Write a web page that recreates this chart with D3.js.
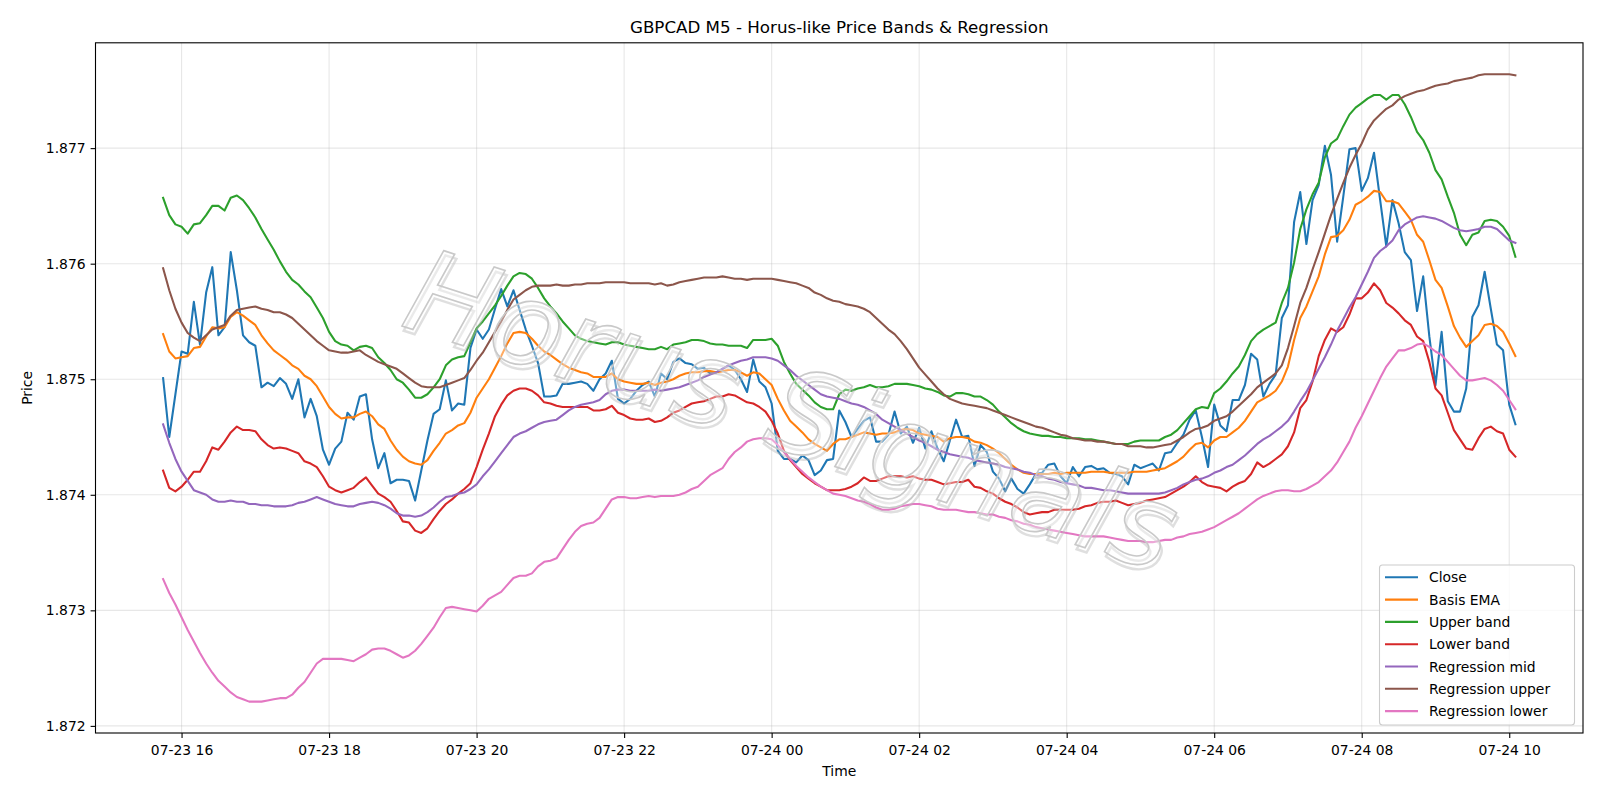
<!DOCTYPE html>
<html><head><meta charset="utf-8">
<script src="https://cdn.jsdelivr.net/npm/d3@7"></script>
<style>
body{margin:0;background:#fff}
svg{display:block}
text{font-family:"DejaVu Sans",sans-serif}
</style>
</head><body>
<svg id="chart" width="1600" height="800"></svg>
<script>
// ---------------- data ----------------
const chartTitle = "GBPCAD M5 - Horus-like Price Bands & Regression";
const xLabel = "Time";
const yLabel = "Price";
const watermark = "Horus Signals";
const startTime = "2025-07-23T15:45:00Z";   // first M5 bar
const stepMinutes = 5;                         // M5 bars
const yTickValues = [1.872, 1.873, 1.874, 1.875, 1.876, 1.877];
const xTickFormat = "%m-%d %H";
const seriesNames = ["Close","Basis EMA","Upper band","Lower band","Regression mid","Regression upper","Regression lower"];
const seriesColors = ["#1f77b4","#ff7f0e","#2ca02c","#d62728","#9467bd","#8c564b","#e377c2"];

const close = [1.87501,1.87450,1.87487,1.87524,1.87522,1.87567,1.87530,1.87575,1.87597,1.87538,
1.87545,1.87610,1.87577,1.87538,1.87532,1.87529,1.87493,1.87497,1.87494,1.87501,
1.87496,1.87483,1.87500,1.87467,1.87483,1.87468,1.87439,1.87426,1.87440,1.87446,
1.87471,1.87465,1.87485,1.87487,1.87448,1.87423,1.87436,1.87410,1.87413,1.87413,
1.87412,1.87395,1.87421,1.87447,1.87470,1.87474,1.87499,1.87473,1.87479,1.87478,
1.87527,1.87543,1.87535,1.87543,1.87561,1.87578,1.87563,1.87577,1.87560,1.87543,
1.87529,1.87514,1.87485,1.87485,1.87486,1.87496,1.87496,1.87497,1.87498,1.87496,
1.87490,1.87500,1.87505,1.87516,1.87483,1.87479,1.87483,1.87490,1.87495,1.87498,
1.87485,1.87505,1.87500,1.87515,1.87518,1.87514,1.87513,1.87509,1.87510,1.87505,
1.87506,1.87509,1.87512,1.87508,1.87500,1.87489,1.87517,1.87498,1.87493,1.87479,
1.87438,1.87431,1.87431,1.87428,1.87434,1.87430,1.87417,1.87421,1.87430,1.87431,
1.87473,1.87463,1.87450,1.87457,1.87464,1.87467,1.87446,1.87446,1.87452,1.87472,
1.87453,1.87459,1.87445,1.87458,1.87440,1.87455,1.87440,1.87429,1.87447,1.87465,
1.87450,1.87451,1.87425,1.87443,1.87437,1.87420,1.87414,1.87403,1.87414,1.87405,
1.87401,1.87409,1.87418,1.87419,1.87426,1.87427,1.87416,1.87410,1.87424,1.87416,
1.87424,1.87425,1.87422,1.87423,1.87419,1.87418,1.87416,1.87409,1.87426,1.87423,
1.87425,1.87427,1.87421,1.87436,1.87437,1.87445,1.87452,1.87465,1.87473,1.87450,
1.87424,1.87478,1.87460,1.87455,1.87482,1.87482,1.87495,1.87522,1.87517,1.87485,
1.87496,1.87504,1.87553,1.87564,1.87636,1.87662,1.87617,1.87655,1.87668,1.87702,
1.87677,1.87619,1.87658,1.87699,1.87700,1.87663,1.87674,1.87696,1.87655,1.87615,
1.87655,1.87635,1.87610,1.87603,1.87559,1.87589,1.87537,1.87495,1.87541,1.87481,
1.87472,1.87472,1.87492,1.87554,1.87564,1.87593,1.87561,1.87530,1.87525,1.87478,
1.87461];

const basisEma = [1.87539,1.87524,1.87518,1.87519,1.87520,1.87527,1.87528,1.87537,1.87545,1.87544,
1.87545,1.87554,1.87558,1.87555,1.87551,1.87547,1.87538,1.87531,1.87525,1.87521,
1.87517,1.87512,1.87509,1.87503,1.87500,1.87494,1.87485,1.87476,1.87470,1.87466,
1.87467,1.87467,1.87470,1.87472,1.87468,1.87461,1.87457,1.87447,1.87439,1.87433,
1.87429,1.87427,1.87426,1.87430,1.87438,1.87445,1.87453,1.87456,1.87460,1.87462,
1.87471,1.87484,1.87492,1.87500,1.87510,1.87520,1.87531,1.87540,1.87541,1.87540,
1.87535,1.87529,1.87524,1.87521,1.87517,1.87513,1.87510,1.87508,1.87506,1.87505,
1.87502,1.87502,1.87502,1.87505,1.87500,1.87498,1.87497,1.87496,1.87496,1.87497,
1.87495,1.87497,1.87498,1.87500,1.87503,1.87505,1.87506,1.87506,1.87507,1.87507,
1.87506,1.87507,1.87508,1.87508,1.87506,1.87503,1.87506,1.87505,1.87500,1.87495,
1.87483,1.87473,1.87464,1.87459,1.87454,1.87448,1.87444,1.87441,1.87438,1.87444,
1.87448,1.87448,1.87450,1.87452,1.87454,1.87453,1.87452,1.87453,1.87453,1.87454,
1.87456,1.87457,1.87456,1.87453,1.87452,1.87451,1.87450,1.87446,1.87449,1.87450,
1.87450,1.87449,1.87446,1.87445,1.87443,1.87440,1.87436,1.87431,1.87426,1.87422,
1.87419,1.87418,1.87418,1.87418,1.87418,1.87419,1.87418,1.87419,1.87419,1.87419,
1.87419,1.87420,1.87420,1.87420,1.87419,1.87419,1.87419,1.87419,1.87420,1.87420,
1.87420,1.87421,1.87422,1.87423,1.87426,1.87429,1.87433,1.87439,1.87444,1.87445,
1.87441,1.87447,1.87450,1.87450,1.87454,1.87458,1.87464,1.87472,1.87480,1.87483,
1.87486,1.87490,1.87498,1.87511,1.87534,1.87553,1.87563,1.87576,1.87589,1.87608,
1.87623,1.87624,1.87629,1.87638,1.87651,1.87654,1.87658,1.87663,1.87662,1.87654,
1.87654,1.87652,1.87645,1.87638,1.87625,1.87619,1.87603,1.87586,1.87579,1.87563,
1.87546,1.87536,1.87528,1.87533,1.87538,1.87547,1.87548,1.87546,1.87541,1.87531,
1.87520];

const upperBand = [1.87657,1.87642,1.87634,1.87632,1.87626,1.87634,1.87635,1.87642,1.87650,1.87650,
1.87646,1.87657,1.87659,1.87655,1.87648,1.87640,1.87630,1.87621,1.87612,1.87602,
1.87593,1.87586,1.87582,1.87576,1.87571,1.87562,1.87553,1.87541,1.87533,1.87530,
1.87529,1.87525,1.87528,1.87529,1.87527,1.87519,1.87514,1.87508,1.87500,1.87497,
1.87491,1.87484,1.87484,1.87487,1.87493,1.87500,1.87512,1.87517,1.87519,1.87520,
1.87532,1.87544,1.87550,1.87557,1.87564,1.87572,1.87581,1.87589,1.87592,1.87591,
1.87587,1.87579,1.87570,1.87563,1.87557,1.87550,1.87544,1.87538,1.87535,1.87533,
1.87532,1.87531,1.87530,1.87532,1.87532,1.87530,1.87529,1.87528,1.87527,1.87526,
1.87526,1.87528,1.87526,1.87530,1.87531,1.87532,1.87534,1.87534,1.87533,1.87531,
1.87530,1.87530,1.87529,1.87529,1.87529,1.87527,1.87534,1.87534,1.87534,1.87535,
1.87529,1.87515,1.87505,1.87496,1.87491,1.87486,1.87480,1.87476,1.87474,1.87474,
1.87487,1.87491,1.87490,1.87492,1.87493,1.87495,1.87493,1.87493,1.87494,1.87496,
1.87496,1.87496,1.87495,1.87494,1.87492,1.87491,1.87489,1.87486,1.87485,1.87488,
1.87488,1.87487,1.87485,1.87485,1.87482,1.87478,1.87472,1.87467,1.87462,1.87458,
1.87455,1.87453,1.87452,1.87451,1.87451,1.87450,1.87450,1.87449,1.87449,1.87449,
1.87448,1.87448,1.87447,1.87446,1.87445,1.87444,1.87444,1.87444,1.87446,1.87447,
1.87447,1.87447,1.87447,1.87450,1.87452,1.87456,1.87462,1.87468,1.87474,1.87476,
1.87475,1.87488,1.87492,1.87498,1.87505,1.87511,1.87521,1.87533,1.87539,1.87543,
1.87546,1.87549,1.87566,1.87579,1.87601,1.87630,1.87647,1.87660,1.87670,1.87692,
1.87704,1.87708,1.87719,1.87729,1.87735,1.87739,1.87743,1.87746,1.87746,1.87742,
1.87746,1.87746,1.87738,1.87727,1.87714,1.87707,1.87696,1.87681,1.87673,1.87658,
1.87644,1.87625,1.87616,1.87625,1.87627,1.87637,1.87638,1.87637,1.87632,1.87624,
1.87606];

const lowerBand = [1.87421,1.87406,1.87403,1.87407,1.87413,1.87420,1.87420,1.87429,1.87441,1.87439,
1.87446,1.87454,1.87459,1.87456,1.87456,1.87455,1.87448,1.87443,1.87440,1.87441,
1.87440,1.87438,1.87436,1.87429,1.87427,1.87424,1.87416,1.87407,1.87404,1.87402,
1.87404,1.87406,1.87411,1.87415,1.87408,1.87401,1.87398,1.87394,1.87386,1.87377,
1.87376,1.87369,1.87367,1.87371,1.87379,1.87386,1.87392,1.87396,1.87401,1.87405,
1.87410,1.87424,1.87439,1.87453,1.87468,1.87478,1.87486,1.87490,1.87492,1.87492,
1.87490,1.87486,1.87480,1.87479,1.87477,1.87476,1.87476,1.87476,1.87476,1.87476,
1.87473,1.87473,1.87474,1.87477,1.87471,1.87469,1.87466,1.87465,1.87465,1.87466,
1.87463,1.87464,1.87467,1.87471,1.87473,1.87476,1.87479,1.87480,1.87481,1.87483,
1.87485,1.87485,1.87487,1.87486,1.87483,1.87480,1.87479,1.87476,1.87472,1.87464,
1.87453,1.87438,1.87430,1.87424,1.87418,1.87414,1.87410,1.87407,1.87404,1.87404,
1.87404,1.87405,1.87407,1.87410,1.87415,1.87412,1.87412,1.87414,1.87416,1.87416,
1.87416,1.87415,1.87416,1.87414,1.87413,1.87413,1.87411,1.87409,1.87410,1.87411,
1.87411,1.87413,1.87407,1.87406,1.87403,1.87401,1.87397,1.87394,1.87392,1.87389,
1.87385,1.87383,1.87384,1.87385,1.87385,1.87387,1.87387,1.87387,1.87387,1.87388,
1.87390,1.87391,1.87393,1.87394,1.87394,1.87395,1.87393,1.87391,1.87392,1.87393,
1.87395,1.87396,1.87397,1.87398,1.87401,1.87404,1.87407,1.87411,1.87416,1.87411,
1.87408,1.87407,1.87406,1.87403,1.87407,1.87410,1.87412,1.87418,1.87428,1.87424,
1.87427,1.87431,1.87435,1.87442,1.87454,1.87475,1.87482,1.87498,1.87520,1.87534,
1.87544,1.87541,1.87545,1.87556,1.87570,1.87570,1.87575,1.87583,1.87577,1.87566,
1.87562,1.87557,1.87551,1.87547,1.87537,1.87533,1.87515,1.87492,1.87486,1.87471,
1.87456,1.87448,1.87440,1.87439,1.87449,1.87457,1.87459,1.87455,1.87453,1.87439,
1.87433];

const regMid = [1.87461,1.87445,1.87431,1.87420,1.87412,1.87404,1.87402,1.87400,1.87396,1.87394,
1.87394,1.87395,1.87394,1.87394,1.87392,1.87392,1.87391,1.87391,1.87390,1.87390,
1.87390,1.87391,1.87393,1.87394,1.87396,1.87398,1.87396,1.87394,1.87392,1.87391,
1.87390,1.87390,1.87392,1.87393,1.87394,1.87393,1.87391,1.87388,1.87384,1.87382,
1.87382,1.87381,1.87382,1.87385,1.87389,1.87394,1.87398,1.87399,1.87401,1.87402,
1.87405,1.87409,1.87416,1.87422,1.87429,1.87436,1.87443,1.87450,1.87453,1.87455,
1.87458,1.87461,1.87463,1.87464,1.87465,1.87469,1.87473,1.87476,1.87478,1.87479,
1.87480,1.87482,1.87487,1.87490,1.87491,1.87491,1.87490,1.87490,1.87490,1.87490,
1.87491,1.87490,1.87491,1.87492,1.87493,1.87495,1.87497,1.87499,1.87502,1.87504,
1.87506,1.87509,1.87512,1.87514,1.87516,1.87517,1.87519,1.87519,1.87519,1.87518,
1.87516,1.87512,1.87508,1.87503,1.87499,1.87495,1.87491,1.87487,1.87485,1.87484,
1.87483,1.87481,1.87479,1.87478,1.87476,1.87473,1.87470,1.87465,1.87462,1.87459,
1.87456,1.87453,1.87450,1.87447,1.87445,1.87442,1.87439,1.87437,1.87435,1.87434,
1.87433,1.87432,1.87430,1.87429,1.87428,1.87427,1.87426,1.87424,1.87423,1.87422,
1.87420,1.87419,1.87417,1.87416,1.87414,1.87413,1.87411,1.87410,1.87409,1.87408,
1.87406,1.87406,1.87405,1.87404,1.87404,1.87403,1.87402,1.87401,1.87401,1.87401,
1.87401,1.87401,1.87401,1.87402,1.87404,1.87406,1.87409,1.87411,1.87413,1.87414,
1.87416,1.87419,1.87421,1.87424,1.87426,1.87430,1.87434,1.87439,1.87444,1.87448,
1.87451,1.87455,1.87459,1.87464,1.87472,1.87481,1.87489,1.87499,1.87509,1.87519,
1.87530,1.87542,1.87552,1.87562,1.87571,1.87582,1.87593,1.87605,1.87611,1.87615,
1.87620,1.87629,1.87634,1.87637,1.87640,1.87641,1.87640,1.87639,1.87637,1.87634,
1.87631,1.87629,1.87628,1.87629,1.87630,1.87632,1.87632,1.87630,1.87625,1.87620,
1.87618];

const regUpper = [1.87596,1.87577,1.87561,1.87549,1.87540,1.87536,1.87533,1.87538,1.87543,1.87545,
1.87547,1.87555,1.87560,1.87561,1.87562,1.87563,1.87561,1.87560,1.87558,1.87558,
1.87556,1.87553,1.87548,1.87543,1.87538,1.87533,1.87529,1.87525,1.87524,1.87523,
1.87523,1.87524,1.87525,1.87521,1.87518,1.87515,1.87513,1.87511,1.87509,1.87505,
1.87501,1.87497,1.87494,1.87493,1.87493,1.87493,1.87495,1.87497,1.87499,1.87501,
1.87508,1.87516,1.87523,1.87532,1.87541,1.87550,1.87560,1.87569,1.87573,1.87577,
1.87580,1.87581,1.87581,1.87581,1.87582,1.87581,1.87581,1.87582,1.87582,1.87583,
1.87583,1.87583,1.87584,1.87584,1.87584,1.87584,1.87583,1.87583,1.87583,1.87583,
1.87582,1.87583,1.87581,1.87582,1.87584,1.87585,1.87586,1.87587,1.87588,1.87588,
1.87588,1.87589,1.87588,1.87587,1.87587,1.87586,1.87587,1.87587,1.87587,1.87587,
1.87586,1.87585,1.87584,1.87583,1.87581,1.87579,1.87575,1.87573,1.87570,1.87568,
1.87567,1.87565,1.87564,1.87563,1.87561,1.87558,1.87553,1.87548,1.87543,1.87539,
1.87533,1.87526,1.87518,1.87510,1.87504,1.87498,1.87492,1.87487,1.87483,1.87481,
1.87479,1.87478,1.87477,1.87476,1.87475,1.87473,1.87471,1.87469,1.87467,1.87465,
1.87463,1.87461,1.87459,1.87458,1.87456,1.87454,1.87452,1.87451,1.87449,1.87448,
1.87447,1.87447,1.87446,1.87446,1.87445,1.87444,1.87444,1.87442,1.87442,1.87442,
1.87441,1.87441,1.87442,1.87443,1.87444,1.87447,1.87450,1.87454,1.87457,1.87458,
1.87460,1.87464,1.87466,1.87468,1.87472,1.87477,1.87482,1.87487,1.87493,1.87497,
1.87501,1.87505,1.87512,1.87527,1.87546,1.87566,1.87579,1.87595,1.87610,1.87626,
1.87642,1.87656,1.87670,1.87683,1.87694,1.87704,1.87716,1.87724,1.87729,1.87734,
1.87737,1.87742,1.87745,1.87747,1.87749,1.87750,1.87752,1.87754,1.87755,1.87756,
1.87758,1.87759,1.87760,1.87761,1.87763,1.87764,1.87764,1.87764,1.87764,1.87764,
1.87763];

const regLower = [1.87327,1.87315,1.87305,1.87294,1.87283,1.87273,1.87263,1.87254,1.87246,1.87239,
1.87234,1.87229,1.87225,1.87223,1.87221,1.87221,1.87221,1.87222,1.87223,1.87224,
1.87224,1.87227,1.87233,1.87238,1.87246,1.87254,1.87258,1.87258,1.87258,1.87258,
1.87257,1.87256,1.87259,1.87262,1.87266,1.87267,1.87267,1.87265,1.87262,1.87259,
1.87261,1.87265,1.87271,1.87278,1.87285,1.87294,1.87302,1.87303,1.87302,1.87301,
1.87300,1.87299,1.87304,1.87310,1.87313,1.87316,1.87322,1.87328,1.87330,1.87330,
1.87332,1.87338,1.87342,1.87343,1.87345,1.87353,1.87361,1.87368,1.87373,1.87375,
1.87376,1.87380,1.87388,1.87396,1.87398,1.87398,1.87397,1.87397,1.87398,1.87399,
1.87398,1.87399,1.87399,1.87399,1.87400,1.87402,1.87405,1.87407,1.87412,1.87417,
1.87420,1.87423,1.87431,1.87437,1.87441,1.87446,1.87448,1.87449,1.87449,1.87448,
1.87443,1.87437,1.87431,1.87425,1.87420,1.87415,1.87411,1.87407,1.87404,1.87401,
1.87400,1.87399,1.87397,1.87395,1.87394,1.87392,1.87389,1.87387,1.87387,1.87388,
1.87390,1.87391,1.87392,1.87392,1.87391,1.87390,1.87388,1.87387,1.87387,1.87387,
1.87386,1.87385,1.87385,1.87384,1.87383,1.87383,1.87381,1.87380,1.87378,1.87377,
1.87375,1.87374,1.87372,1.87371,1.87370,1.87369,1.87368,1.87367,1.87366,1.87365,
1.87364,1.87364,1.87364,1.87364,1.87363,1.87362,1.87361,1.87360,1.87360,1.87360,
1.87359,1.87359,1.87360,1.87361,1.87361,1.87363,1.87364,1.87366,1.87367,1.87368,
1.87370,1.87372,1.87375,1.87378,1.87381,1.87384,1.87388,1.87392,1.87396,1.87399,
1.87401,1.87403,1.87404,1.87404,1.87403,1.87403,1.87405,1.87408,1.87411,1.87416,
1.87421,1.87428,1.87437,1.87446,1.87458,1.87468,1.87479,1.87490,1.87501,1.87511,
1.87518,1.87525,1.87525,1.87527,1.87530,1.87531,1.87528,1.87524,1.87521,1.87515,
1.87509,1.87503,1.87499,1.87499,1.87500,1.87501,1.87499,1.87495,1.87490,1.87482,
1.87474];

const seriesValues = [close, basisEma, upperBand, lowerBand, regMid, regUpper, regLower];

// ---------------- layout ----------------
const svg = d3.select("#chart");
const plot = {left: 95.5, right: 1583, top: 42.8, bottom: 733};

const t0 = Date.parse(startTime);
const times = close.map((_, i) => new Date(t0 + i * stepMinutes * 60000));

const tMin = +times[0], tMax = +times[times.length - 1];
const tPad = (tMax - tMin) * 0.05;
const x = d3.scaleUtc().domain([new Date(tMin - tPad), new Date(tMax + tPad)]).range([plot.left, plot.right]);

const allVals = seriesValues.flat();
const vMin = d3.min(allVals), vMax = d3.max(allVals);
const vPad = (vMax - vMin) * 0.05;
const y = d3.scaleLinear().domain([vMin - vPad, vMax + vPad]).range([plot.bottom, plot.top]);

const xTicks = x.ticks(d3.utcHour.every(2)).filter(d => +d >= +x.domain()[0] && +d <= +x.domain()[1]);

svg.append("rect").attr("width", 1600).attr("height", 800).attr("fill", "#fff");

// grid
const grid = svg.append("g");
grid.selectAll("line.v").data(xTicks).join("line")
  .attr("x1", d => x(d)).attr("x2", d => x(d))
  .attr("y1", plot.top).attr("y2", plot.bottom)
  .attr("stroke", "#b0b0b0").attr("stroke-opacity", 0.3).attr("stroke-width", 1.1);
grid.selectAll("line.h").data(yTickValues).join("line")
  .attr("x1", plot.left).attr("x2", plot.right)
  .attr("y1", d => y(d)).attr("y2", d => y(d))
  .attr("stroke", "#b0b0b0").attr("stroke-opacity", 0.3).attr("stroke-width", 1.1);

// lines
const clipId = "plotclip";
svg.append("clipPath").attr("id", clipId).append("rect")
  .attr("x", plot.left).attr("y", plot.top)
  .attr("width", plot.right - plot.left).attr("height", plot.bottom - plot.top);

const lineGen = d3.line().x((d, i) => x(times[i])).y(d => y(d));
const linesG = svg.append("g").attr("clip-path", `url(#${clipId})`);
seriesValues.forEach((vals, k) => {
  linesG.append("path").datum(vals)
    .attr("d", lineGen)
    .attr("fill", "none")
    .attr("stroke", seriesColors[k])
    .attr("stroke-width", 2.08)
    .attr("stroke-linejoin", "round")
    .attr("stroke-linecap", "square");
});

// watermark: outlined italic text with a soft shadow, drawn over the lines
const wm = svg.append("g").attr("transform", "translate(792,410) rotate(18)");
const wmAttrs = sel => sel.text(watermark)
  .attr("text-anchor", "middle").attr("dominant-baseline", "central")
  .attr("font-family", "'DejaVu Sans', sans-serif")
  .attr("font-size", 116).attr("font-style", "italic")
  .attr("textLength", 800).attr("lengthAdjust", "spacing");
wm.append("text").call(wmAttrs).attr("x", 3).attr("y", 4)
  .attr("fill", "none").attr("stroke", "#b8b8b8").attr("stroke-opacity", 0.45).attr("stroke-width", 2.4);
wm.append("text").call(wmAttrs)
  .attr("fill", "#ffffff").attr("fill-opacity", 0.35)
  .attr("stroke", "#c9c9c9").attr("stroke-width", 1.6);

// axes
const xAxis = svg.append("g").attr("transform", `translate(0,${plot.bottom})`)
  .call(d3.axisBottom(x).tickValues(xTicks).tickFormat(d3.utcFormat(xTickFormat)).tickSize(4.9).tickPadding(7));
const yAxis = svg.append("g").attr("transform", `translate(${plot.left},0)`)
  .call(d3.axisLeft(y).tickValues(yTickValues).tickFormat(d3.format(".3f")).tickSize(4.9).tickPadding(5));
[xAxis, yAxis].forEach(a => {
  a.select(".domain").remove();
  a.selectAll(".tick line").attr("stroke", "#000").attr("stroke-width", 1.1);
  a.selectAll(".tick text").attr("fill", "#000").attr("font-size", 13.9)
    .attr("font-family", "DejaVu Sans, sans-serif");
});

// frame
svg.append("rect").attr("x", plot.left).attr("y", plot.top)
  .attr("width", plot.right - plot.left).attr("height", plot.bottom - plot.top)
  .attr("fill", "none").attr("stroke", "#000").attr("stroke-width", 1.1);

// titles
svg.append("text").text(chartTitle)
  .attr("x", (plot.left + plot.right) / 2).attr("y", 33)
  .attr("text-anchor", "middle").attr("font-size", 16.7).attr("fill", "#000");
svg.append("text").text(xLabel)
  .attr("x", (plot.left + plot.right) / 2).attr("y", 776)
  .attr("text-anchor", "middle").attr("font-size", 13.9).attr("fill", "#000");
svg.append("text").text(yLabel)
  .attr("transform", `translate(32,${(plot.top + plot.bottom) / 2}) rotate(-90)`)
  .attr("text-anchor", "middle").attr("font-size", 13.9).attr("fill", "#000");

// legend
const leg = svg.append("g");
const legBox = {x: 1379.5, y: 565, w: 195, h: 160};
leg.append("rect").attr("x", legBox.x).attr("y", legBox.y)
  .attr("width", legBox.w).attr("height", legBox.h).attr("rx", 3)
  .attr("fill", "#fff").attr("fill-opacity", 0.8)
  .attr("stroke", "#cccccc").attr("stroke-width", 1.1);
seriesNames.forEach((name, k) => {
  const cy = 577.3 + k * 22.3;
  leg.append("line").attr("x1", 1385).attr("x2", 1418).attr("y1", cy).attr("y2", cy)
    .attr("stroke", seriesColors[k]).attr("stroke-width", 2.08);
  leg.append("text").text(name).attr("x", 1429).attr("y", cy + 5)
    .attr("font-size", 13.9).attr("fill", "#000");
});
</script>
</body></html>
